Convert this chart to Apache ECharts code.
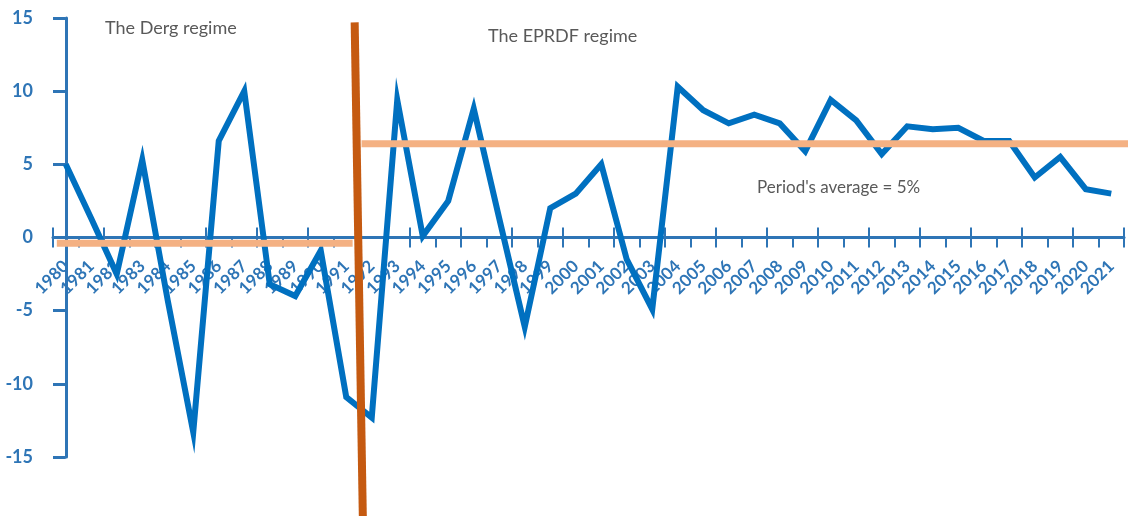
<!DOCTYPE html>
<html>
<head>
<meta charset="utf-8">
<script src="https://cdn.jsdelivr.net/npm/echarts@6/dist/echarts.min.js"></script>
<style>
  html, body { margin: 0; padding: 0; background: #fff; }
  #chart { width: 1128px; height: 516px; }
</style>
</head>
<body>
<div id="chart"></div>
<script>
const years = [
  '1980', '1981', '1982', '1983', '1984', '1985', '1986', '1987', '1988', '1989',
  '1990', '1991', '1992', '1993', '1994', '1995', '1996', '1997', '1998', '1999',
  '2000', '2001', '2002', '2003', '2004', '2005', '2006', '2007', '2008', '2009',
  '2010', '2011', '2012', '2013', '2014', '2015', '2016', '2017', '2018', '2019',
  '2020', '2021'
]
const growth = [
  5.0, 1.3, -2.5, 5.3, -4.3, -13.3, 6.6, 10.0, -3.2, -4.0,
  -0.9, -10.9, -12.3, 9.4, 0.1, 2.5, 8.8, 1.3, -6.1, 2.0,
  3.0, 5.0, -1.5, -4.9, 10.3, 8.7, 7.8, 8.4, 7.8, 5.9,
  9.4, 8.0, 5.7, 7.6, 7.4, 7.5, 6.6, 6.6, 4.1, 5.5,
  3.3, 3.0
]

// regime averages, x in category index units
const dergAverage = [[-0.35, -0.4], [11.25, -0.4]]
const eprdfAverage = [[11.6, 6.4], [41.7, 6.4]]
// hand-drawn divider between the two regimes
const regimeDivider = [[11.33, 14.7], [11.65, -19.1]]

const blue = '#0070C0'
const axisBlue = '#2E75B6'

const gridTop = 18
const gridBottom = 59
const gridHeight = 516 - gridTop - gridBottom
// move the category axis up from the grid bottom to the zero line (y range is symmetric)
const zeroOffset = -gridHeight / 2

const chart = echarts.init(document.getElementById('chart'))

const option = {
  animation: false,
  grid: {
    left: 53,
    right: 4,
    top: gridTop,
    bottom: gridBottom
  },
  xAxis: [
    {
      type: 'category',
      data: years,
      position: 'bottom',
      offset: zeroOffset,
      boundaryGap: true,
      axisLine: { onZero: false, lineStyle: { color: axisBlue, width: 3 } },
      axisTick: { show: true, length: 10, lineStyle: { color: axisBlue, width: 2 } },
      axisLabel: {
        interval: 0,
        rotate: 45,
        margin: 26,
        color: axisBlue,
        fontFamily: 'Lato',
        fontWeight: 'bold',
        fontSize: 17
      },
      splitLine: { show: false }
    },
    {
      type: 'category',
      data: years,
      position: 'bottom',
      offset: zeroOffset,
      boundaryGap: true,
      axisLine: { show: false, onZero: false },
      axisTick: { show: true, inside: true, length: 10, lineStyle: { color: axisBlue, width: 2 } },
      axisLabel: { show: false },
      splitLine: { show: false }
    },
    {
      type: 'value',
      show: false,
      min: -0.5,
      max: 41.5
    }
  ],
  yAxis: [
    {
      type: 'value',
      position: 'left',
      min: -15,
      max: 15,
      interval: 5,
      axisLine: { show: true, lineStyle: { color: axisBlue, width: 3 } },
      axisTick: { show: true, length: 10, lineStyle: { color: axisBlue, width: 3 } },
      axisLabel: {
        margin: 20,
        color: axisBlue,
        fontFamily: 'Lato',
        fontWeight: 'bold',
        fontSize: 18
      },
      splitLine: { show: false }
    },
    {
      type: 'value',
      position: 'left',
      min: -15,
      max: 15,
      interval: 5,
      axisLine: { show: false },
      axisTick: { show: true, inside: true, length: 10, lineStyle: { color: axisBlue, width: 3 } },
      axisLabel: { show: false },
      splitLine: { show: false }
    }
  ],
  graphic: [
    {
      type: 'text', left: 105, top: 19,
      style: { text: 'The Derg regime', fill: '#595959', font: '18px Lato' }
    },
    {
      type: 'text', left: 488, top: 27,
      style: { text: 'The EPRDF regime', fill: '#595959', font: '18px Lato' }
    },
    {
      type: 'text', left: 757, top: 179,
      style: { text: "Period's average = 5%", fill: '#595959', font: '17px Lato' }
    }
  ],
  series: [
    {
      name: 'GDP growth',
      type: 'line',
      xAxisIndex: 0,
      yAxisIndex: 0,
      data: growth,
      symbol: 'none',
      z: 3,
      lineStyle: { color: blue, width: 6, join: 'miter' }
    },
    {
      name: 'Derg average',
      type: 'line',
      xAxisIndex: 2,
      yAxisIndex: 0,
      data: dergAverage,
      symbol: 'none',
      clip: false,
      z: 4,
      lineStyle: { color: '#F4B183', width: 7 }
    },
    {
      name: 'EPRDF average',
      type: 'line',
      xAxisIndex: 2,
      yAxisIndex: 0,
      data: eprdfAverage,
      symbol: 'none',
      clip: false,
      z: 4,
      lineStyle: { color: '#F4B183', width: 7 }
    },
    {
      name: 'Regime change',
      type: 'line',
      xAxisIndex: 2,
      yAxisIndex: 0,
      data: regimeDivider,
      symbol: 'none',
      clip: false,
      z: 5,
      lineStyle: { color: '#C55A11', width: 8 }
    }
  ]
}

chart.setOption(option)

window.addEventListener('resize', () => chart.resize())
</script>
</body>
</html>
